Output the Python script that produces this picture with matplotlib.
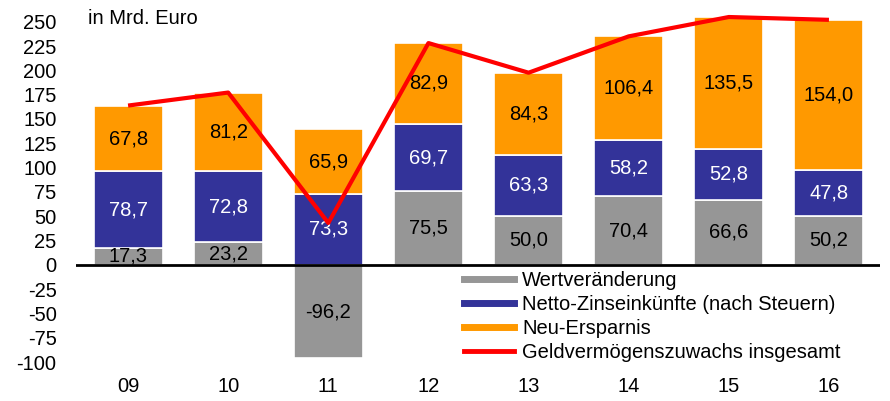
import numpy as np
import matplotlib.pyplot as plt
from matplotlib.lines import Line2D

plt.rcParams['font.family'] = ['Liberation Sans', 'DejaVu Sans']
plt.rcParams['axes.unicode_minus'] = False

# Data (Mrd. Euro)
years = ["09", "10", "11", "12", "13", "14", "15", "16"]
wert = [17.3, 23.2, -96.2, 75.5, 50.0, 70.4, 66.6, 50.2]
zins = [78.7, 72.8, 73.3, 69.7, 63.3, 58.2, 52.8, 47.8]
spar = [67.8, 81.2, 65.9, 82.9, 84.3, 106.4, 135.5, 154.0]

c_wert = "#969696"
c_zins = "#333399"
c_spar = "#FF9900"
c_line = "#FF0000"

x = np.arange(len(years))
wert = np.array(wert)
zins = np.array(zins)
spar = np.array(spar)
total = wert + zins + spar

fs = 14.5

fig = plt.figure(figsize=(8.9, 4.01), dpi=100)
ax = fig.add_axes([76/890, 1 - 362/401, 804/890, (362 - 14)/401])

# positive gray bars sit below blue, negative ones go down from 0
zins_base = np.where(wert > 0, wert, 0)
spar_base = zins_base + zins

w = 0.69
ax.bar(x, wert, w, color=c_wert, edgecolor="white", linewidth=1.2, zorder=2)
ax.bar(x, zins, w, bottom=zins_base, color=c_zins, edgecolor="white", linewidth=1.2, zorder=2)
ax.bar(x, spar, w, bottom=spar_base, color=c_spar, edgecolor="white", linewidth=1.2, zorder=2)
ax.plot(x, total, color=c_line, lw=3, zorder=5, clip_on=False, solid_capstyle="butt")

def fmt(v):
    return ("%.1f" % v).replace(".", ",")

for i in range(len(x)):
    ax.text(x[i], wert[i] / 2, fmt(wert[i]), ha="center", va="center", fontsize=fs, color="black", zorder=4)
    ax.text(x[i], zins_base[i] + zins[i] / 2, fmt(zins[i]), ha="center", va="center", fontsize=fs,
            color="white", zorder=4)
    ax.text(x[i], spar_base[i] + spar[i] / 2, fmt(spar[i]), ha="center", va="center", fontsize=fs,
            color="black", zorder=4)

ax.axhline(0, color="black", lw=2, zorder=3)

ax.set_xlim(-0.52, 7.51)
ax.set_ylim(-100, 258)
ax.set_yticks(np.arange(-100, 251, 25))
ax.set_xticks(x)
ax.set_xticklabels(years)
ax.tick_params(axis="both", length=0, labelsize=fs)
ax.tick_params(axis="y", pad=14)
ax.tick_params(axis="x", pad=11)
for s in ax.spines.values():
    s.set_visible(False)

fig.text(88/890, 1 - 18/401, "in Mrd. Euro", fontsize=fs, va="center", ha="left")

handles = [Line2D([], [], color=c_wert, lw=5),
           Line2D([], [], color=c_zins, lw=5),
           Line2D([], [], color=c_spar, lw=5),
           Line2D([], [], color=c_line, lw=3.5)]
labels = ["Wertveränderung", "Netto-Zinseinkünfte (nach Steuern)", "Neu-Ersparnis",
          "Geldvermögenszuwachs insgesamt"]
ax.legend(handles, labels, loc="upper left", bbox_to_anchor=(464/890, 1 - 271/401),
          bbox_transform=fig.transFigure, frameon=False, fontsize=fs, handlelength=2.5,
          labelspacing=0.25, handletextpad=0.4, borderaxespad=0, borderpad=0)

fig.savefig("out.png", dpi=100)
